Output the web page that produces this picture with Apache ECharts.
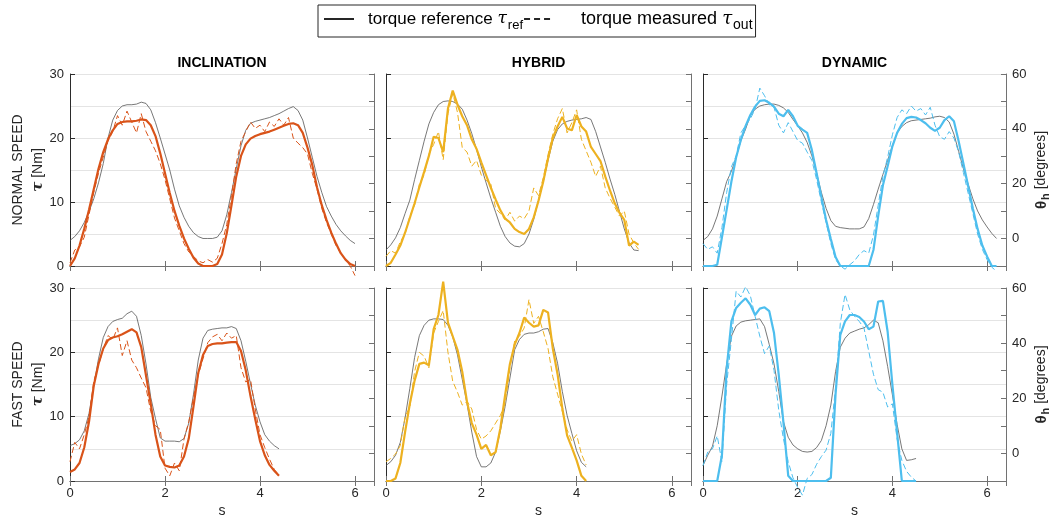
<!DOCTYPE html>
<html>
<head>
<meta charset="utf-8">
<script src="https://cdn.jsdelivr.net/npm/echarts@6/dist/echarts.min.js"></script>
<style>
  html, body { margin: 0; padding: 0; background: #fff; }
  #chart { width: 1055px; height: 519px; }
</style>
</head>
<body>
<div id="chart"></div>
<script>
// every trace is sampled at the same step, starting at t = 0 s
var dt = 0.1;

var columns = ['INCLINATION', 'HYBRID', 'DYNAMIC'];
var rows = ['NORMAL SPEED', 'FAST SPEED'];
var colors = ['#D95319', '#EDB120', '#4DBEEE'];
var xTicks = [0, 2, 4, 6];
var torqueTicks = [0, 10, 20, 30];
var thetaTicks = [0, 20, 40, 60];

// INCLINATION, normal speed
var incNormRef = [4.0, 4.6, 5.5, 6.8, 8.5, 10.5, 13.0, 16.0, 20.0, 22.8,
  24.3, 25.0, 25.2, 25.2, 25.3, 25.6, 25.4, 24.4, 22.4, 20.0,
  17.5, 15.0, 12.0, 9.4, 7.6, 6.2, 5.2, 4.6, 4.3, 4.3,
  4.3, 4.5, 5.5, 8.0, 11.5, 15.2, 18.8, 21.2, 22.3, 22.6,
  22.8, 23.0, 23.2, 23.5, 23.8, 24.2, 24.6, 24.9, 24.3, 22.8,
  20.0, 17.0, 14.0, 11.5, 9.3, 7.8, 6.5, 5.5, 4.7, 4.0, 3.5];
var incNormMeas = [0.5, 2.5, 3.0, 4.5, 8.0, 11.5, 14.5, 17.0, 19.5, 21.0,
  23.5, 22.0, 24.2, 22.5, 20.8, 23.8, 21.0, 19.5, 18.0, 16.0,
  13.5, 10.5, 7.5, 5.5, 3.5, 2.2, 1.5, 0.8, 0.5, 1.0,
  0.6, 1.2, 3.5, 6.5, 11.0, 16.0, 19.5, 21.0, 22.5, 21.5,
  22.0, 21.0, 22.5, 21.8, 23.0, 22.0, 23.2, 20.0, 19.2, 18.5,
  17.5, 14.5, 12.0, 9.0, 6.8, 5.0, 3.2, 2.0, 1.0, 0.0, -1.5];
var incNormBold = [0.0, 1.2, 3.2, 5.8, 8.8, 12.0, 15.2, 17.8, 19.8, 21.2,
  22.2, 22.5, 22.6, 22.6, 22.7, 22.9, 22.8, 22.0, 20.3, 17.6,
  14.5, 11.4, 8.6, 6.3, 4.3, 2.7, 1.3, 0.4, 0.0, 0.0,
  0.0, 0.3, 1.8, 5.1, 9.5, 14.0, 17.2, 19.0, 19.9, 20.3,
  20.6, 20.8, 21.0, 21.3, 21.6, 21.9, 22.2, 22.3, 22.0, 20.8,
  18.5, 15.8, 12.3, 9.5, 7.2, 5.2, 3.5, 2.0, 1.0, 0.3, 0.0];

// HYBRID, normal speed
var hybNormRef = [2.5, 3.3, 4.4, 6.0, 8.2, 10.3, 13.5, 16.5, 19.5, 22.2,
  24.0, 25.2, 25.7, 25.8, 25.7, 25.3, 24.5, 22.8, 20.7, 18.2,
  15.5, 13.0, 10.6, 8.4, 6.2, 4.6, 3.6, 3.1, 3.0, 3.5,
  5.0, 7.3, 10.3, 13.2, 16.5, 19.5, 21.3, 22.2, 22.6, 22.8,
  22.9, 23.0, 23.2, 22.9, 21.0, 18.6, 16.2, 13.6, 11.2, 8.5,
  5.8, 3.6, 2.5, 2.4];
var hybNormMeas = [1.5, 2.4, 2.0, 3.8, 5.0, 7.8, 9.5, 12.8, 14.2, 17.5,
  19.0, 21.0, 16.6, 23.8, 27.0, 24.0, 18.5, 17.8, 15.6, 16.5,
  14.2, 13.4, 12.8, 9.0, 8.2, 7.2, 8.4, 7.0, 7.8, 7.4,
  8.6, 12.2, 11.0, 13.8, 17.4, 20.6, 23.0, 24.6, 20.8, 22.4,
  24.4, 19.8, 18.0, 16.2, 14.0, 15.6, 12.2, 10.6, 9.2, 7.8,
  8.6, 5.0, 3.6, 2.6];
var hybNormBold = [0.0, 0.5, 1.8, 3.2, 5.2, 7.5, 9.8, 12.3, 14.7, 17.2,
  20.2, 20.0, 17.8, 24.6, 27.4, 25.2, 23.4, 22.0, 19.8, 18.3,
  16.2, 14.2, 12.2, 10.4, 8.7, 7.4, 6.8, 5.8, 5.3, 5.0,
  5.8, 7.6, 10.2, 13.2, 16.8, 20.0, 21.8, 23.3, 21.5, 21.2,
  23.6, 21.8, 21.0, 18.6, 17.5, 16.4, 14.0, 11.8, 9.8, 8.3,
  7.2, 3.2, 3.8, 3.3];

// DYNAMIC, normal speed
var dynNormRef = [4.0, 4.6, 5.8, 7.8, 10.5, 13.2, 14.8, 17.0, 19.6, 21.4,
  23.5, 24.5, 25.0, 25.2, 25.3, 25.3, 25.1, 24.7, 24.0, 22.9,
  21.9, 20.8, 19.3, 17.2, 14.5, 11.5, 9.0, 7.1, 6.2, 6.0,
  5.9, 5.8, 5.8, 5.8, 6.1, 7.4, 9.6, 12.0, 14.3, 16.5,
  18.8, 20.8, 21.8, 22.4, 22.7, 22.8, 22.9, 23.0, 23.1, 23.3,
  23.4, 23.2, 22.5, 20.6, 17.9, 15.2, 12.8, 10.5, 8.6, 7.2,
  6.1, 5.1, 4.3];
var dynNormMeas = [3.5, 2.6, 3.0, 2.0, 6.0, 11.5, 15.5, 17.2, 20.8, 22.0,
  23.0, 24.5, 27.8, 26.6, 25.2, 24.8, 22.0, 20.8, 22.4, 21.0,
  19.6, 19.2, 17.8, 16.5, 13.5, 10.0, 6.8, 3.5, 1.0, 0.0,
  -0.5, 0.2, 0.8, 1.8, 2.4, 2.0, 4.8, 9.5, 14.0, 17.0,
  20.5, 23.2, 24.4, 23.8, 25.0, 24.2, 24.6, 23.6, 24.8, 22.0,
  20.2, 19.8, 21.0, 20.0, 17.8, 14.6, 11.4, 8.2, 5.0, 2.6,
  1.0, -0.2, -0.8];
var dynNormBold = [0.0, 0.0, 0.0, 0.2, 4.5, 8.8, 13.2, 17.0, 19.7, 21.9,
  23.6, 24.9, 25.8, 25.9, 25.5, 24.9, 23.8, 23.4, 24.4, 23.4,
  21.9, 21.3, 20.8, 18.1, 14.5, 10.8, 7.2, 4.2, 1.4, 0.0,
  0.0, 0.0, 0.0, 0.0, 0.0, 0.0, 2.5, 7.8, 12.6, 15.6,
  18.7, 20.8, 22.2, 23.1, 23.3, 23.2, 22.8, 22.3, 21.6, 21.1,
  21.6, 22.8, 23.4, 22.6, 19.5, 16.0, 12.5, 9.0, 5.8, 3.2,
  1.5, 0.0, 0.0];

// INCLINATION, fast speed
var incFastRef = [5.5, 5.8, 6.4, 7.8, 10.5, 14.8, 19.0, 22.3, 24.0, 24.8,
  25.1, 25.3, 26.0, 26.4, 25.6, 22.6, 18.2, 13.0, 9.7, 6.7,
  6.2, 6.2, 6.2, 6.1, 6.6, 9.0, 13.5, 18.8, 22.2, 23.4,
  23.6, 23.7, 23.8, 23.8, 24.0, 23.7, 21.8, 18.6, 15.1, 11.8,
  9.2, 7.2, 6.2, 5.5, 5.0];
var incFastMeas = [3.0, 6.0, 5.0, 7.2, 10.0, 15.5, 18.0, 20.5, 22.6, 22.0,
  23.8, 19.5, 21.8, 18.8, 17.6, 16.0, 14.5, 10.8, 8.6, 8.0,
  2.0, 0.8, 2.8, 1.6, 6.5, 9.2, 13.0, 16.5, 19.0, 21.5,
  22.4, 22.8, 21.8, 23.0, 22.2, 22.6, 17.6, 15.4, 15.8, 11.2,
  7.2, 5.2, 3.4, 1.8, 0.9];
var incFastBold = [1.4, 1.8, 2.8, 5.2, 9.2, 14.8, 18.2, 20.6, 21.9, 22.3,
  22.5, 22.8, 23.2, 23.6, 23.1, 20.8, 16.4, 12.0, 7.2, 3.8,
  2.4, 2.2, 2.1, 2.4, 3.8, 6.6, 11.6, 16.8, 19.6, 21.0,
  21.3, 21.4, 21.4, 21.5, 21.6, 21.6, 20.2, 17.2, 13.2, 9.6,
  6.2, 4.0, 2.5, 1.6, 0.8];

// HYBRID, fast speed
var hybFastRef = [2.4, 3.0, 4.0, 6.0, 9.8, 14.4, 19.2, 22.6, 24.2, 25.0,
  25.2, 25.2, 25.1, 24.2, 22.4, 19.6, 15.8, 12.0, 7.6, 3.8,
  2.2, 2.2, 2.8, 4.5, 7.8, 11.6, 16.0, 20.4, 22.0, 22.8,
  23.0, 23.0, 23.2, 23.6, 23.7, 21.5, 18.3, 13.9, 10.2, 7.4,
  4.7, 2.9, 2.2];
var hybFastMeas = [3.0, 3.5, 4.2, 5.5, 10.0, 11.5, 17.0, 20.0, 19.4, 17.6,
  23.0, 24.8, 26.5, 20.0, 15.5, 13.8, 11.8, 12.4, 11.2, 8.0,
  6.5, 7.0, 7.8, 9.0, 10.2, 12.0, 17.5, 21.8, 22.5, 23.8,
  28.2, 24.5, 25.6, 23.2, 20.6, 16.2, 13.5, 10.8, 8.0, 6.2,
  7.2, 4.2, 2.5];
var hybFastBold = [0.0, 0.0, 0.4, 2.8, 7.6, 12.0, 15.6, 18.2, 18.4, 18.0,
  23.6, 25.8, 31.0, 24.6, 22.5, 20.4, 17.0, 12.3, 9.0, 7.2,
  5.0, 5.6, 4.0, 4.5, 8.2, 13.4, 18.2, 21.2, 23.0, 25.4,
  24.6, 24.0, 24.2, 26.6, 26.2, 20.6, 16.6, 11.3, 7.1, 5.2,
  3.2, 0.8, 0.0];

// DYNAMIC, fast speed
var dynFastRef = [2.4, 4.0, 5.4, 8.6, 13.2, 18.2, 22.5, 24.1, 24.7, 24.9,
  25.0, 25.1, 25.2, 24.0, 21.2, 18.2, 13.9, 9.2, 6.8, 5.6,
  5.0, 4.6, 4.5, 4.6, 5.2, 6.3, 8.6, 11.8, 17.0, 20.8,
  22.2, 23.0, 23.3, 23.6, 23.8, 24.3, 25.0, 24.6, 21.8, 17.8,
  13.4, 8.8, 5.0, 3.2, 3.3, 3.5];
var dynFastMeas = [2.4, 4.5, 5.0, 7.0, 3.0, 15.0, 22.0, 29.5, 28.6, 30.2,
  28.8, 25.6, 22.5, 19.8, 21.0, 17.2, 11.0, 6.5, 3.0, 0.5,
  -1.0, -2.2, 0.4, 1.0, 2.6, 3.8, 4.8, 7.4, 14.5, 24.5,
  29.0, 26.6, 25.6, 24.8, 23.8, 20.2, 16.6, 14.2, 13.8, 11.5,
  12.0, 6.5, 3.2, 1.5, 0.6, 0.0];
var dynFastBold = [0.0, 0.0, 0.0, 0.0, 4.0, 17.5, 24.8, 26.9, 27.7, 28.4,
  27.4, 25.8, 26.8, 27.0, 26.4, 23.0, 16.5, 9.0, 0.8, 0.0,
  0.0, 0.0, 0.0, 0.0, 0.0, 0.0, 0.0, 0.5, 13.5, 22.7,
  24.8, 25.8, 25.8, 25.5, 24.8, 23.6, 24.0, 27.9, 28.0, 23.2,
  15.0, 7.5, 0.0, 0.0, 0.0, 0.0];

var panels = [
  {row: 0, col: 0, ref: incNormRef, meas: incNormMeas, bold: incNormBold},
  {row: 0, col: 1, ref: hybNormRef, meas: hybNormMeas, bold: hybNormBold},
  {row: 0, col: 2, ref: dynNormRef, meas: dynNormMeas, bold: dynNormBold},
  {row: 1, col: 0, ref: incFastRef, meas: incFastMeas, bold: incFastBold},
  {row: 1, col: 1, ref: hybFastRef, meas: hybFastMeas, bold: hybFastBold},
  {row: 1, col: 2, ref: dynFastRef, meas: dynFastMeas, bold: dynFastBold}
];

// layout of the 2x3 grid, px
var colLeft = [70, 386, 703];
var colWidth = [304, 305, 303];
var rowTop = [74, 288];
var rowHeight = [192, 193];

var font = '"Liberation Sans", Arial, Helvetica, sans-serif';
var serif = '"DejaVu Serif", "Liberation Serif", serif';
var darkFrame = '#2b2b2b';
var greyFrame = '#727272';
var textColor = '#262626';

function toPoints(values) {
  return values.map(function(v, i) {
    return [Math.round(i * dt * 100) / 100, v];
  });
}

function listed(ticks) {
  return function(v) {
    return ticks.indexOf(v) >= 0 ? String(v) : '';
  };
}

function line(color) {
  return {show: true, lineStyle: {color: color, width: 1}};
}

function ticks(color) {
  return {show: true, inside: true, length: 5, lineStyle: {color: color, width: 1}};
}

var option = {
  animation: false,
  textStyle: {fontFamily: font},
  grid: [], xAxis: [], yAxis: [], series: [],
  legend: {
    left: 318, top: 5,
    padding: [5, 3, 5, 5],
    itemGap: 0, itemWidth: 30, itemHeight: 14,
    itemStyle: {opacity: 0}, // line sample only, no marker
    borderColor: textColor, borderWidth: 1,
    selectedMode: false,
    data: ['torque reference', 'torque measured'],
    formatter: function(name) {
      return name === 'torque reference' ?
        '{a|torque reference }{t|τ}{s|ref}' :
        '{b|torque measured }{u|τ}{v|out}';
    },
    textStyle: {
      fontSize: 17, color: '#000',
      rich: {
        a: {fontSize: 17, fontFamily: font, padding: [0, 0, 0, 9]},
        b: {fontSize: 18, fontFamily: font, padding: [0, 0, 0, 22]},
        t: {fontSize: 17, fontFamily: serif, fontStyle: 'italic'},
        u: {fontSize: 18, fontFamily: serif, fontStyle: 'italic'},
        s: {fontSize: 13, fontFamily: font, verticalAlign: 'bottom', padding: [12, 0, 0, 1]},
        v: {fontSize: 14, fontFamily: font, verticalAlign: 'bottom', padding: [12, 0, 0, 1]}
      }
    }
  },
  graphic: columns.map(function(name, c) {
    return {
      type: 'text', x: colLeft[c] + colWidth[c] / 2, y: 63,
      style: {text: name, fontSize: 14, fontWeight: 'bold', fontFamily: font,
        fill: '#000', align: 'center', verticalAlign: 'middle'}
    };
  })
};

// two empty series that only feed the legend
option.series.push(
  {type: 'line', name: 'torque reference', data: [], symbol: 'none',
    xAxisIndex: 0, yAxisIndex: 0, itemStyle: {color: textColor},
    lineStyle: {color: textColor, width: 1}},
  {type: 'line', name: 'torque measured', data: [], symbol: 'none',
    xAxisIndex: 0, yAxisIndex: 0, itemStyle: {color: textColor},
    lineStyle: {color: textColor, width: 1, type: [6, 4]}}
);

panels.forEach(function(p, i) {
  var bottomRow = p.row === 1;
  var leftCol = p.col === 0;
  var rightCol = p.col === 2;
  var labelStyle = {fontSize: 13, color: textColor, fontFamily: font};

  option.grid.push({
    left: colLeft[p.col], top: rowTop[p.row],
    width: colWidth[p.col], height: rowHeight[p.row]
  });

  option.xAxis.push({
    gridIndex: i, type: 'value', position: 'bottom',
    min: 0, max: 6.4, interval: 2,
    axisLine: line(greyFrame), axisTick: ticks(greyFrame), splitLine: {show: false},
    axisLabel: Object.assign({show: bottomRow, margin: 6, showMaxLabel: false,
      formatter: listed(xTicks)}, labelStyle),
    name: bottomRow ? 's' : '', nameLocation: 'middle', nameGap: 23,
    nameTextStyle: {fontSize: 14, color: textColor, fontFamily: font}
  }, {
    gridIndex: i, type: 'value', position: 'top',
    min: 0, max: 6.4, interval: 2,
    axisLine: line(greyFrame), axisTick: ticks(greyFrame),
    axisLabel: {show: false}, splitLine: {show: false}
  });

  option.yAxis.push({
    // torque axis
    gridIndex: i, type: 'value', position: 'left',
    min: 0, max: 30, interval: 10,
    axisLine: line(darkFrame), axisTick: ticks(darkFrame), splitLine: {show: false},
    axisLabel: Object.assign({show: leftCol, margin: 6,
      formatter: listed(torqueTicks)}, labelStyle),
    name: leftCol ? '{t|τ} [Nm]' : '', nameLocation: 'middle', nameRotate: 90, nameGap: 22,
    nameTextStyle: {fontSize: 14, color: textColor, fontFamily: font,
      rich: {t: {fontSize: 15, fontFamily: serif, fontWeight: 'bold', fontStyle: 'italic'}}}
  }, {
    // light grid every 5 Nm, also carries the row label
    gridIndex: i, type: 'value', position: 'left',
    min: 0, max: 30, interval: 5,
    axisLine: {show: false}, axisTick: {show: false}, axisLabel: {show: false},
    splitLine: {show: true, lineStyle: {color: '#e4e4e4', width: 1}},
    name: leftCol ? rows[p.row] : '', nameLocation: 'middle', nameRotate: 90, nameGap: 45,
    nameTextStyle: {fontSize: 14, color: textColor, fontFamily: font}
  }, {
    // hip angle axis
    gridIndex: i, type: 'value', position: 'right',
    min: -10, max: 60, interval: 10,
    axisLine: line(greyFrame), axisTick: ticks(greyFrame), splitLine: {show: false},
    axisLabel: Object.assign({show: rightCol, margin: 6,
      formatter: listed(thetaTicks)}, labelStyle),
    name: rightCol ? '{t|θ}{s|h} [degrees]' : '', nameLocation: 'middle', nameRotate: 90, nameGap: 26,
    nameTextStyle: {fontSize: 14, color: textColor, fontFamily: font,
      rich: {
        t: {fontSize: 15, fontWeight: 'bold', fontFamily: font},
        s: {fontSize: 11, fontWeight: 'bold', fontFamily: font, verticalAlign: 'bottom', padding: [8, 0, 0, 1]}
      }}
  });

  var common = {
    type: 'line', xAxisIndex: 2 * i, yAxisIndex: 3 * i,
    symbol: 'none', silent: true, clip: false
  };
  option.series.push(
    Object.assign({}, common, {
      data: toPoints(p.ref), z: 2,
      lineStyle: {color: '#555555', width: 0.8}
    }),
    Object.assign({}, common, {
      data: toPoints(p.meas), z: 3,
      lineStyle: {color: colors[p.col], width: 1, type: [6, 3]}
    }),
    Object.assign({}, common, {
      data: toPoints(p.bold), z: 4,
      lineStyle: {color: colors[p.col], width: 2.2}
    })
  );
});

var chart = echarts.init(document.getElementById('chart'), null, {renderer: 'canvas'});
chart.setOption(option);
</script>
</body>
</html>
